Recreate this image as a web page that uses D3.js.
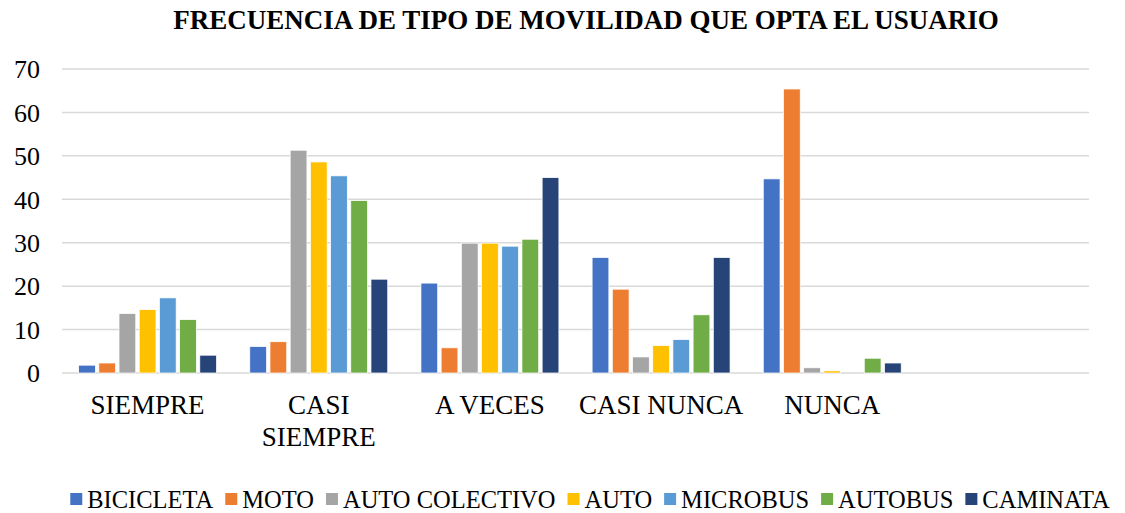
<!DOCTYPE html>
<html>
<head>
<meta charset="utf-8">
<script src="https://cdn.jsdelivr.net/npm/d3@7"></script>
<style>
  body { margin: 0; background: #fff; }
  text { font-family: "Liberation Serif", "Times New Roman", serif; fill: #000; }
</style>
</head>
<body>
<div id="chart"></div>
<script>
// categories (last slot is empty in the original chart)
var categories = ["SIEMPRE", "CASI SIEMPRE", "A VECES", "CASI NUNCA", "NUNCA", ""];
var series = ["BICICLETA", "MOTO", "AUTO COLECTIVO", "AUTO", "MICROBUS", "AUTOBUS", "CAMINATA"];
var colors = ["#4472c4", "#ed7d31", "#a5a5a5", "#ffc000", "#5b9bd5", "#70ad47", "#264478"];
// values per series, one per category
var bicicleta = [1.8, 6.1, 20.7, 26.6, 44.7];
var moto = [2.3, 7.2, 5.8, 19.3, 65.4];
var autoColectivo = [13.7, 51.3, 29.9, 3.7, 1.2];
var auto = [14.6, 48.6, 29.9, 6.3, 0.5];
var microbus = [17.3, 45.4, 29.2, 7.7, 0];
var autobus = [12.3, 39.7, 30.8, 13.4, 3.4];
var caminata = [4.1, 21.6, 45.0, 26.6, 2.3];
var values = [bicicleta, moto, autoColectivo, auto, microbus, autobus, caminata];
var yTicks = [0, 10, 20, 30, 40, 50, 60, 70];
var title = "FRECUENCIA DE TIPO DE MOVILIDAD QUE OPTA EL USUARIO";

var width = 1125, height = 513;
var pLeft = 62, pRight = 1089, pTop = 69, pBottom = 373;

var svg = d3.select('#chart').append('svg').attr('width', width).attr('height', height);

var x0 = d3.scaleBand().domain(categories).range([pLeft, pRight]);
var gap = x0.bandwidth() * 0.097;
var x1 = d3.scaleBand().domain(series).range([gap, x0.bandwidth() - gap]).paddingInner(0.17);
var y = d3.scaleLinear().domain([0, 70]).range([pBottom, pTop]);

// title
svg.append('text').attr('x', 586).attr('y', 29).attr('text-anchor', 'middle')
  .style('font-size', '27px').style('font-weight', 'bold').text(title);

// grid
svg.append('g').selectAll('line').data(yTicks).enter().append('line')
  .attr('x1', pLeft).attr('x2', pRight)
  .attr('y1', function (d) { return y(d); }).attr('y2', function (d) { return y(d); })
  .style('stroke', '#d9d9d9').style('stroke-width', 1.5);

// y axis labels
var yAxis = d3.axisLeft(y).tickValues(yTicks).tickSize(0).tickPadding(0);
var ya = svg.append('g').attr('transform', 'translate(40,0)').call(yAxis);
ya.attr('font-family', null);
ya.select('.domain').remove();
ya.selectAll('text').style('font-size', '26px').style('font-family', '"Liberation Serif", serif').attr('dy', '0.34em');

// bars
var groups = svg.append('g').selectAll('g').data(categories.slice(0, 5)).enter().append('g')
  .attr('transform', function (d) { return 'translate(' + x0(d) + ',0)'; });
groups.each(function (cat, ci) {
  d3.select(this).selectAll('rect').data(series).enter().append('rect')
    .attr('x', function (s) { return x1(s); })
    .attr('width', x1.bandwidth())
    .attr('y', function (s, si) { return y(values[si][ci]); })
    .attr('height', function (s, si) { return pBottom - y(values[si][ci]); })
    .style('fill', function (s, si) { return colors[si]; })
    .style('stroke', '#fff').style('stroke-width', 0.75);
});

// category labels (wrap if wider than band)
var xl = svg.append('g');
categories.forEach(function (c) {
  if (!c) return;
  var t = xl.append('text').attr('x', x0(c) + x0.bandwidth() / 2).attr('y', 414)
    .attr('text-anchor', 'middle').style('font-size', '27px').text(c);
  if (t.node().getComputedTextLength() > x0.bandwidth()) {
    var words = c.split(' ');
    t.text(null);
    words.forEach(function (w, i) {
      t.append('tspan').attr('x', x0(c) + x0.bandwidth() / 2).attr('y', 414 + i * 32).text(w);
    });
  }
});

// legend
var lg = svg.append('g');
var lx = 0;
series.forEach(function (s, i) {
  var g = lg.append('g');
  g.append('rect').attr('x', 0).attr('y', -15).attr('width', 12).attr('height', 12).style('fill', colors[i]);
  var t = g.append('text').attr('x', 17).attr('y', 0).style('font-size', '24.5px').text(s);
  var w = 17 + t.node().getComputedTextLength();
  g.attr('transform', 'translate(' + lx + ',0)');
  lx += w + 12;
});
lx -= 12;
lg.attr('transform', 'translate(' + (590 - lx / 2) + ',508)');
</script>
</body>
</html>
